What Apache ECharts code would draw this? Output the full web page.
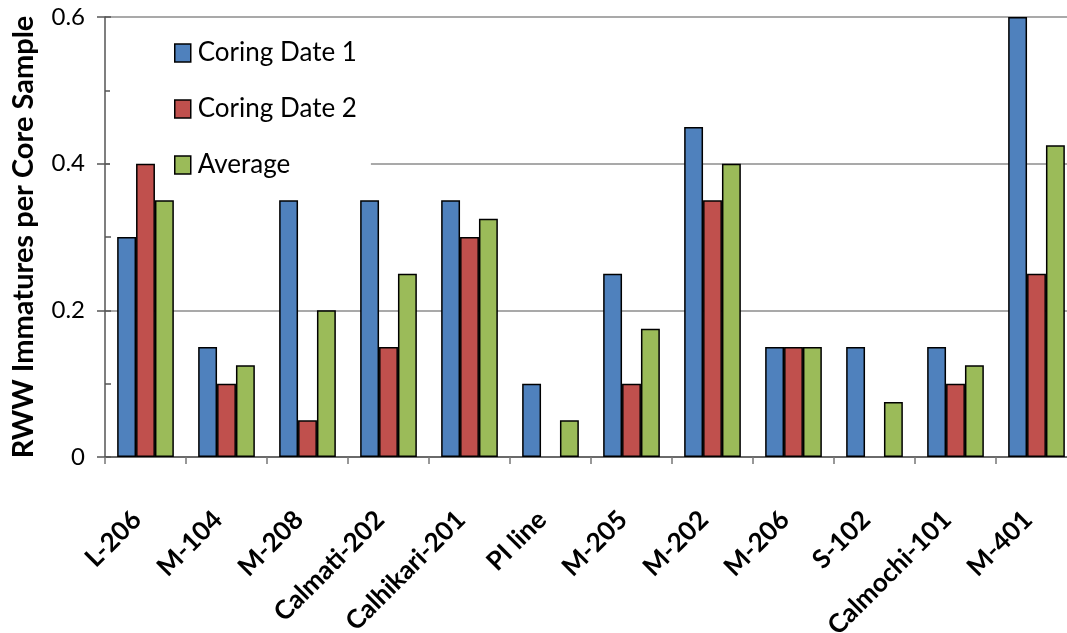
<!DOCTYPE html>
<html>
<head>
<meta charset="utf-8">
<script src="https://cdn.jsdelivr.net/npm/echarts@6/dist/echarts.min.js"></script>
<style>
  html, body { margin: 0; padding: 0; background: #fff; }
  #chart { width: 1067px; height: 633px; }
</style>
</head>
<body>
<div id="chart"></div>
<script>
// 站点（类别）
const sites = ['L-206', 'M-104', 'M-208', 'Calmati-202', 'Calhikari-201', 'PI line',
  'M-205', 'M-202', 'M-206', 'S-102', 'Calmochi-101', 'M-401']
const coringDate1 = [0.3, 0.15, 0.35, 0.35, 0.35, 0.1, 0.25, 0.45, 0.15, 0.15, 0.15, 0.6]
const coringDate2 = [0.4, 0.1, 0.05, 0.15, 0.3, 0, 0.1, 0.35, 0.15, 0, 0.1, 0.25]
const average = [0.35, 0.125, 0.2, 0.25, 0.325, 0.05, 0.175, 0.4, 0.15, 0.075, 0.125, 0.425]
const yTicks = [0, 0.2, 0.4, 0.6]

const font = 'Lato, "Open Sans", sans-serif'
const chart = echarts.init(document.getElementById('chart'))

function barSeries(name, data, color) {
  return {
    name,
    type: 'bar',
    z: 3,
    // 零值不画边框
    data: data.map(v => v === 0 ? { value: v, itemStyle: { borderWidth: 0 } } : v),
    barGap: '0%',
    barCategoryGap: '30%',
    itemStyle: { color, borderColor: '#000', borderWidth: 1.5 }
  }
}

chart.setOption({
  animation: false,
  textStyle: { fontFamily: font },
  grid: { left: 105, top: 17, bottom: 176, right: -10, outerBoundsMode: 'none', containLabel: false },
  legend: {
    orient: 'vertical',
    z: 1,
    left: 110,
    top: 32,
    icon: 'rect',
    itemWidth: 16,
    itemHeight: 18,
    itemGap: 30,
    padding: [8, 14, 8, 64],
    backgroundColor: '#fff',
    textStyle: { fontFamily: font, fontSize: 26, color: '#000', padding: [0, 0, 0, 2] },
    data: ['Coring Date 1', 'Coring Date 2', 'Average'],
    itemStyle: { borderColor: '#000', borderWidth: 1.5 }
  },
  xAxis: {
    type: 'category',
    data: sites,
    axisLine: { lineStyle: { color: '#555', width: 1.5 } },
    axisTick: { show: true, alignWithLabel: false, length: 7, lineStyle: { color: '#777', width: 1.5 } },
    axisLabel: {
      rotate: 45,
      margin: 50,
      interval: 0,
      padding: [0, 12, 0, 0],
      color: '#000',
      fontFamily: font,
      fontWeight: 'bold',
      fontSize: 26
    }
  },
  yAxis: [
    {
      type: 'value',
      min: 0,
      max: 0.6,
      interval: 0.2,
      name: 'RWW Immatures per Core Sample',
      nameLocation: 'middle',
      nameGap: 67,
      nameTextStyle: { fontFamily: font, fontWeight: 'bold', fontSize: 29, color: '#000' },
      axisLine: { show: true, lineStyle: { color: '#555', width: 1.5 } },
      axisTick: { show: true, length: 8, lineStyle: { color: '#555', width: 1.5 } },
      axisLabel: {
        margin: 20,
        color: '#000',
        fontFamily: font,
        fontSize: 24,
        formatter: v => yTicks.includes(+v.toFixed(1)) ? String(+v.toFixed(1)) : ''
      },
      splitLine: { lineStyle: { color: '#8c8c8c', width: 1.5 } }
    },
    {
      // 次刻度（向内）
      type: 'value',
      position: 'left',
      min: 0,
      max: 0.6,
      interval: 0.1,
      axisLine: { show: false },
      axisTick: { show: true, inside: true, length: 6, lineStyle: { color: '#555', width: 1.5 } },
      axisLabel: { show: false },
      splitLine: { show: false }
    }
  ],
  series: [
    barSeries('Coring Date 1', coringDate1, '#4F81BD'),
    barSeries('Coring Date 2', coringDate2, '#C0504D'),
    barSeries('Average', average, '#9BBB59')
  ]
})
</script>
</body>
</html>
